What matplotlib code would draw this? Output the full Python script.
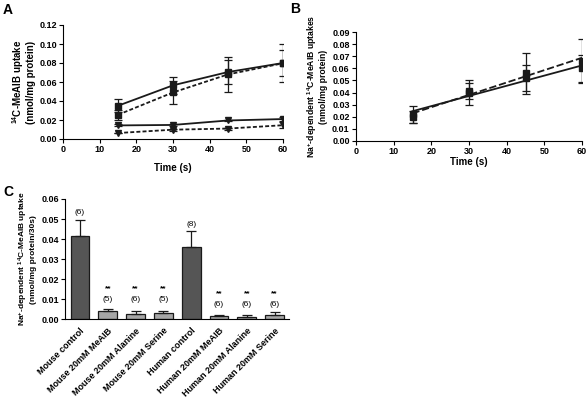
import numpy as np
import matplotlib
matplotlib.use("Agg")
import matplotlib.pyplot as plt
from matplotlib.ticker import FormatStrFormatter, MultipleLocator

plt.rcParams['font.family'] = ['Liberation Sans', 'DejaVu Sans']
plt.rcParams['font.weight'] = 'bold'
plt.rcParams['mathtext.fontset'] = 'custom'
plt.rcParams['mathtext.rm'] = 'Liberation Sans:bold'
plt.rcParams['mathtext.bf'] = 'Liberation Sans:bold'
plt.rcParams['mathtext.it'] = 'Liberation Sans:bold'
plt.rcParams['mathtext.default'] = 'bf'

# ---- Panel A data ----
time_a = [15, 30, 45, 60]
a_sq_solid = [0.035, 0.0565, 0.0705, 0.080]
a_sq_solid_err = [0.007, 0.009, 0.0125, 0.020]
a_sq_dash = [0.0255, 0.049, 0.068, 0.0797]
a_sq_dash_err = [0.005, 0.012, 0.018, 0.0135]
a_tri_solid = [0.0143, 0.0148, 0.0195, 0.021]
a_tri_solid_err = [0.001, 0.001, 0.001, 0.002]
a_tri_dash = [0.0063, 0.0098, 0.011, 0.0145]
a_tri_dash_err = [0.0005, 0.001, 0.001, 0.003]

# ---- Panel B data ----
time_b = [15, 30, 45, 60]
b_solid = [0.022, 0.040, 0.052, 0.060]
b_solid_err = [0.007, 0.010, 0.011, 0.011]
b_dash = [0.020, 0.041, 0.056, 0.066]
b_dash_err = [0.005, 0.0065, 0.017, 0.018]

# ---- Panel C data ----
c_labels = ["Mouse control", "Mouse 20mM MeAIB", "Mouse 20mM Alanine", "Mouse 20mM Serine",
            "Human control", "Human 20mM MeAIB", "Human 20mM Alanine", "Human 20mM Serine"]
c_values = [0.0416, 0.0039, 0.0027, 0.0033, 0.0363, 0.0015, 0.0011, 0.0023]
c_errors = [0.0079, 0.0011, 0.0016, 0.0010, 0.0075, 0.0004, 0.0008, 0.0012]
c_n = ["(6)", "(5)", "(6)", "(5)", "(8)", "(6)", "(6)", "(6)"]
c_sig = ["", "**", "**", "**", "", "**", "**", "**"]

W, H = 587, 399
fig = plt.figure(figsize=(W / 100, H / 100), dpi=100)

def ax_px(l, t, r, b):
    return fig.add_axes([l / W, 1 - b / H, (r - l) / W, (b - t) / H])

def style(ax):
    for s in ['top', 'right']:
        ax.spines[s].set_visible(False)
    for s in ['left', 'bottom']:
        ax.spines[s].set_linewidth(0.8)
    ax.tick_params(direction='out', length=3, width=0.8, labelsize=6.5, pad=1.5)
    for lab in ax.get_xticklabels() + ax.get_yticklabels():
        lab.set_fontweight('bold')

ebkw = dict(capsize=2.8, elinewidth=0.9, capthick=0.9, color='#1a1a1a')

# ---- Panel A ----
axA = ax_px(63, 25, 283, 139)
axA.errorbar(time_a, a_sq_solid, yerr=a_sq_solid_err, marker='s', ms=4.2, lw=1.3, ls='-', **ebkw)
axA.errorbar(time_a, a_sq_dash, yerr=a_sq_dash_err, marker='s', ms=4.2, lw=1.3, ls=(0, (2.2, 1.2)), **ebkw)
axA.errorbar(time_a, a_tri_solid, yerr=a_tri_solid_err, marker='v', ms=3.8, lw=1.3, ls='-', **ebkw)
axA.errorbar(time_a, a_tri_dash, yerr=a_tri_dash_err, marker='v', ms=3.8, lw=1.3, ls=(0, (2.2, 1.2)), **ebkw)
axA.set_xlim(0, 60)
axA.set_ylim(0, 0.12)
axA.xaxis.set_major_locator(MultipleLocator(10))
axA.yaxis.set_major_locator(MultipleLocator(0.02))
axA.yaxis.set_major_formatter(FormatStrFormatter('%.2f'))
style(axA)
axA.set_xlabel('Time (s)', fontsize=7, fontweight='bold', labelpad=6)
axA.set_ylabel('$^{14}$C-MeAIB uptake\n(nmol/mg protein)', fontsize=7, fontweight='bold', labelpad=2, linespacing=1.0)

# ---- Panel B ----
axB = ax_px(356, 32, 582, 141)
tb = np.array(time_b, dtype=float)
xs = np.array([tb.min(), tb.max()])
ps = np.polyfit(tb, b_solid, 1)
pd_ = np.polyfit(tb, b_dash, 1)
axB.plot(xs, np.polyval(ps, xs), color='#1a1a1a', lw=1.3, ls='-')
axB.plot(xs, np.polyval(pd_, xs), color='#1a1a1a', lw=1.3, ls=(0, (4, 1.6)))
axB.errorbar(time_b, b_solid, yerr=b_solid_err, marker='s', ms=4.2, ls='none', **ebkw)
axB.errorbar(time_b, b_dash, yerr=b_dash_err, marker='s', ms=4.2, ls='none', **ebkw)
axB.set_xlim(0, 60)
axB.set_ylim(0, 0.09)
axB.xaxis.set_major_locator(MultipleLocator(10))
axB.yaxis.set_major_locator(MultipleLocator(0.01))
axB.yaxis.set_major_formatter(FormatStrFormatter('%.2f'))
style(axB)
axB.set_xlabel('Time (s)', fontsize=7, fontweight='bold', labelpad=0.5)
axB.set_ylabel('Na$^{+}$-dependent $^{14}$C-MeAIB uptakes\n(nmol/mg protein)', fontsize=6.2, fontweight='bold', labelpad=3, linespacing=1.0)

# ---- Panel C ----
axC = ax_px(65, 199, 289, 319.3)
x = np.arange(len(c_values))
colors = ['#555555' if 'control' in l else '#a6a6a6' for l in c_labels]
axC.bar(x, c_values, width=0.68, color=colors, edgecolor='#1a1a1a', linewidth=0.9)
axC.errorbar(x, c_values, yerr=[np.zeros(len(c_values)), c_errors], fmt='none',
             capsize=3.5, elinewidth=0.9, capthick=0.9, color='#1a1a1a')
for i, (v, e) in enumerate(zip(c_values, c_errors)):
    if c_sig[i]:
        top = 0.0097 if i < 4 else 0.0075
        axC.text(i, top, c_n[i], ha='center', va='center', fontsize=6, fontweight='normal')
        axC.text(i, top + 0.0053, c_sig[i], ha='center', va='center', fontsize=6)
    else:
        axC.text(i, v + e + 0.0036, c_n[i], ha='center', va='center', fontsize=6, fontweight='normal')
axC.set_xlim(-0.54, 7.52)
axC.set_ylim(0, 0.06)
axC.yaxis.set_major_locator(MultipleLocator(0.01))
axC.yaxis.set_major_formatter(FormatStrFormatter('%.2f'))
axC.set_xticks(x)
axC.set_xticklabels(c_labels, rotation=45, ha='right', rotation_mode='anchor')
style(axC)
axC.tick_params(axis='x', length=0, pad=5)
axC.set_ylabel('Na$^{+}$-dependent $^{14}$C-MeAIB uptake\n(nmol/mg protein/30s)', fontsize=6, fontweight='bold', labelpad=3, linespacing=1.0)

# panel letters
fig.text(3 / W, 1 - 3 / H, 'A', fontsize=10, fontweight='bold', va='top', ha='left')
fig.text(290 / W, 1 - 2 / H, 'B', fontsize=10, fontweight='bold', va='top', ha='left')
fig.text(3 / W, 1 - 185 / H, 'C', fontsize=10, fontweight='bold', va='top', ha='left')

fig.savefig('out.png', dpi=100)
